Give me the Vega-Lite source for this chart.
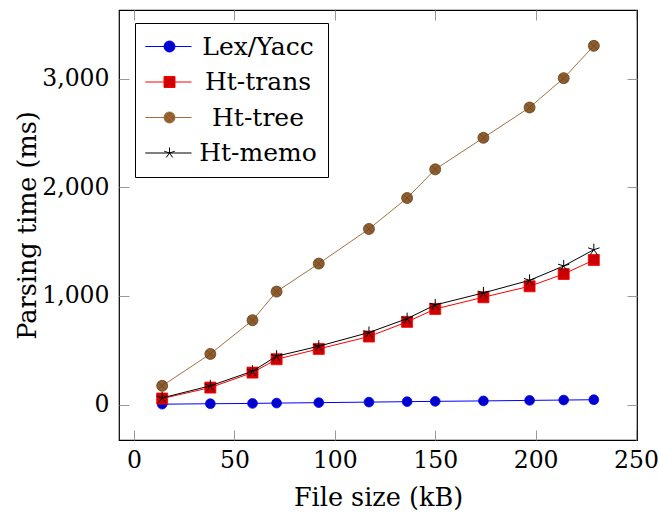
{
  "$schema": "https://vega.github.io/schema/vega-lite/v6.json",
  "width": 518,
  "height": 430,
  "autosize": {"type": "none"},
  "padding": {"left": 119, "top": 10, "right": 22, "bottom": 77},
  "config": {
    "font": "DejaVu Serif",
    "view": {"stroke": "black", "strokeWidth": 1.2},
    "axis": {
      "domain": false, "grid": false, "tickColor": "#999999", "tickWidth": 1,
      "labelFont": "DejaVu Serif", "titleFont": "DejaVu Serif",
      "labelColor": "black", "titleColor": "black", "titleFontWeight": "normal",
      "labelFontSize": 23.5, "titleFontSize": 25.5
    }
  },
  "data": {"values": [
    {"series": "Lex/Yacc", "size": 14, "time": 3},
    {"series": "Lex/Yacc", "size": 38, "time": 7},
    {"series": "Lex/Yacc", "size": 59, "time": 10},
    {"series": "Lex/Yacc", "size": 71, "time": 13},
    {"series": "Lex/Yacc", "size": 92, "time": 17},
    {"series": "Lex/Yacc", "size": 117, "time": 22},
    {"series": "Lex/Yacc", "size": 136, "time": 26},
    {"series": "Lex/Yacc", "size": 150, "time": 29},
    {"series": "Lex/Yacc", "size": 174, "time": 33},
    {"series": "Lex/Yacc", "size": 197, "time": 38},
    {"series": "Lex/Yacc", "size": 214, "time": 41},
    {"series": "Lex/Yacc", "size": 229, "time": 44},
    {"series": "Ht-trans", "size": 14, "time": 55},
    {"series": "Ht-trans", "size": 38, "time": 156},
    {"series": "Ht-trans", "size": 59, "time": 294},
    {"series": "Ht-trans", "size": 71, "time": 417},
    {"series": "Ht-trans", "size": 92, "time": 512},
    {"series": "Ht-trans", "size": 117, "time": 626},
    {"series": "Ht-trans", "size": 136, "time": 761},
    {"series": "Ht-trans", "size": 150, "time": 880},
    {"series": "Ht-trans", "size": 174, "time": 988},
    {"series": "Ht-trans", "size": 197, "time": 1089},
    {"series": "Ht-trans", "size": 214, "time": 1202},
    {"series": "Ht-trans", "size": 229, "time": 1331},
    {"series": "Ht-tree", "size": 14, "time": 172},
    {"series": "Ht-tree", "size": 38, "time": 466},
    {"series": "Ht-tree", "size": 59, "time": 776},
    {"series": "Ht-tree", "size": 71, "time": 1040},
    {"series": "Ht-tree", "size": 92, "time": 1298},
    {"series": "Ht-tree", "size": 117, "time": 1617},
    {"series": "Ht-tree", "size": 136, "time": 1902},
    {"series": "Ht-tree", "size": 150, "time": 2166},
    {"series": "Ht-tree", "size": 174, "time": 2457},
    {"series": "Ht-tree", "size": 197, "time": 2736},
    {"series": "Ht-tree", "size": 214, "time": 3006},
    {"series": "Ht-tree", "size": 229, "time": 3304},
    {"series": "Ht-memo", "size": 14, "time": 61},
    {"series": "Ht-memo", "size": 38, "time": 172},
    {"series": "Ht-memo", "size": 59, "time": 307},
    {"series": "Ht-memo", "size": 71, "time": 445},
    {"series": "Ht-memo", "size": 92, "time": 537},
    {"series": "Ht-memo", "size": 117, "time": 663},
    {"series": "Ht-memo", "size": 136, "time": 791},
    {"series": "Ht-memo", "size": 150, "time": 917},
    {"series": "Ht-memo", "size": 174, "time": 1028},
    {"series": "Ht-memo", "size": 197, "time": 1144},
    {"series": "Ht-memo", "size": 214, "time": 1276},
    {"series": "Ht-memo", "size": 229, "time": 1426}
  ]},
  "resolve": {"axis": {"x": "independent", "y": "independent"}},
  "layer": [
    {
      "encoding": {
        "x": {"field": "size", "type": "quantitative", "scale": {"domain": [-7.5, 250.5], "nice": false, "zero": false},
              "axis": {"values": [0, 50, 100, 150, 200, 250], "tickSize": -10, "labelPadding": 18, "title": "File size (kB)", "titlePadding": 14, "labelFlush": false, "labelOverlap": false}},
        "y": {"field": "time", "type": "quantitative", "scale": {"domain": [-327, 3634], "nice": false, "zero": false},
              "axis": {"values": [0, 1000, 2000, 3000], "format": ",d", "tickSize": -10, "labelPadding": 20, "title": "Parsing time (ms)", "titlePadding": 1, "labelOverlap": false}}
      },
      "layer": [
        {"transform": [{"filter": "datum.series === 'Lex/Yacc'"}],
         "mark": {"type": "line", "strokeWidth": 1},
         "encoding": {"color": {"field": "series", "type": "nominal",
           "scale": {"domain": ["Lex/Yacc", "Ht-trans", "Ht-tree", "Ht-memo"], "range": ["#0000ff", "#ff0000", "#a3703d", "#000000"]},
           "legend": {
             "orient": "none", "legendX": 16, "legendY": 13, "title": null,
             "padding": 11, "strokeColor": "black", "fillColor": "white", "cornerRadius": 0,
             "labelFont": "DejaVu Serif", "labelFontSize": 25, "labelColor": "black",
             "labelAlign": "center", "labelOffset": 87, "rowPadding": 9.5, "symbolSize": 484, "symbolStrokeWidth": 1,
             "encode": {"symbols": {"update": {
               "shape": {"signal": "datum.value === 'Lex/Yacc' ? 'M-1.2,0L0.5,0M1.5,0L3,0M0.5,0A0.5,0.5,0,1,1,1.5,0A0.5,0.5,0,1,1,0.5,0Z' : datum.value === 'Ht-trans' ? 'M-1.2,0L0.5,0M1.5,0L3,0M0.5,-0.5L1.5,-0.5L1.5,0.5L0.5,0.5Z' : datum.value === 'Ht-tree' ? 'M-1.2,0L0.5,0M1.5,0L3,0M0.5,0A0.5,0.5,0,1,1,1.5,0A0.5,0.5,0,1,1,0.5,0ZM0.646,-0.354L1.354,0.354M0.646,0.354L1.354,-0.354' : 'M-1.2,0L3,0M1,0L1,-0.5M1,0L1.476,-0.155M1,0L1.294,0.405M1,0L0.706,0.405M1,0L0.524,-0.155'"},
               "fill": {"signal": "datum.value === 'Lex/Yacc' ? '#0000cc' : datum.value === 'Ht-trans' ? '#cc0000' : datum.value === 'Ht-tree' ? '#8f5e2e' : 'transparent'"},
               "stroke": {"signal": "datum.value === 'Lex/Yacc' ? '#0000ff' : datum.value === 'Ht-trans' ? '#ff0000' : datum.value === 'Ht-tree' ? '#7a4f27' : '#000000'"},
               "opacity": {"value": 1}
             }}}
           }}}},
        {"transform": [{"filter": "datum.series === 'Lex/Yacc'"}],
         "mark": {"type": "point", "shape": "circle", "size": 95, "filled": true, "opacity": 1, "strokeWidth": 0.8},
         "encoding": {"fill": {"value": "#0000cc"}, "stroke": {"value": "#0000ff"}}},
        {"transform": [{"filter": "datum.series === 'Ht-trans'"}],
         "mark": {"type": "line", "strokeWidth": 1},
         "encoding": {"color": {"field": "series", "type": "nominal",
           "scale": {"domain": ["Lex/Yacc", "Ht-trans", "Ht-tree", "Ht-memo"], "range": ["#0000ff", "#ff0000", "#a3703d", "#000000"]}}}},
        {"transform": [{"filter": "datum.series === 'Ht-trans'"}],
         "mark": {"type": "point", "shape": "square", "size": 121, "filled": true, "opacity": 1, "strokeWidth": 0.8},
         "encoding": {"fill": {"value": "#cc0000"}, "stroke": {"value": "#ff0000"}}},
        {"transform": [{"filter": "datum.series === 'Ht-tree'"}],
         "mark": {"type": "line", "strokeWidth": 1},
         "encoding": {"color": {"field": "series", "type": "nominal",
           "scale": {"domain": ["Lex/Yacc", "Ht-trans", "Ht-tree", "Ht-memo"], "range": ["#0000ff", "#ff0000", "#a3703d", "#000000"]}}}},
        {"transform": [{"filter": "datum.series === 'Ht-tree'"}],
         "mark": {"type": "point", "shape": "M-1,0A1,1,0,1,1,1,0A1,1,0,1,1,-1,0ZM-0.707,-0.707L0.707,0.707M-0.707,0.707L0.707,-0.707", "size": 121, "filled": true, "opacity": 1, "strokeWidth": 0.8},
         "encoding": {"fill": {"value": "#8f5e2e"}, "stroke": {"value": "#6b4421"}}},
        {"transform": [{"filter": "datum.series === 'Ht-memo'"}],
         "mark": {"type": "line", "strokeWidth": 1},
         "encoding": {"color": {"field": "series", "type": "nominal",
           "scale": {"domain": ["Lex/Yacc", "Ht-trans", "Ht-tree", "Ht-memo"], "range": ["#0000ff", "#ff0000", "#a3703d", "#000000"]}}}},
        {"transform": [{"filter": "datum.series === 'Ht-memo'"}],
         "mark": {"type": "point", "shape": "M0,0L0,-1M0,0L0.951,-0.309M0,0L0.588,0.809M0,0L-0.588,0.809M0,0L-0.951,-0.309", "size": 144, "filled": false, "opacity": 1, "strokeWidth": 1},
         "encoding": {"stroke": {"value": "#000000"}}}
      ]
    },
    {
      "mark": {"type": "point", "opacity": 0},
      "encoding": {
        "x": {"field": "size", "type": "quantitative", "scale": {"domain": [-7.5, 250.5], "nice": false, "zero": false},
              "axis": {"orient": "top", "values": [0, 50, 100, 150, 200, 250], "tickSize": -10, "labels": false, "title": null}},
        "y": {"field": "time", "type": "quantitative", "scale": {"domain": [-327, 3634], "nice": false, "zero": false},
              "axis": {"orient": "right", "values": [0, 1000, 2000, 3000], "tickSize": -10, "labels": false, "title": null}}
      }
    }
  ]
}
